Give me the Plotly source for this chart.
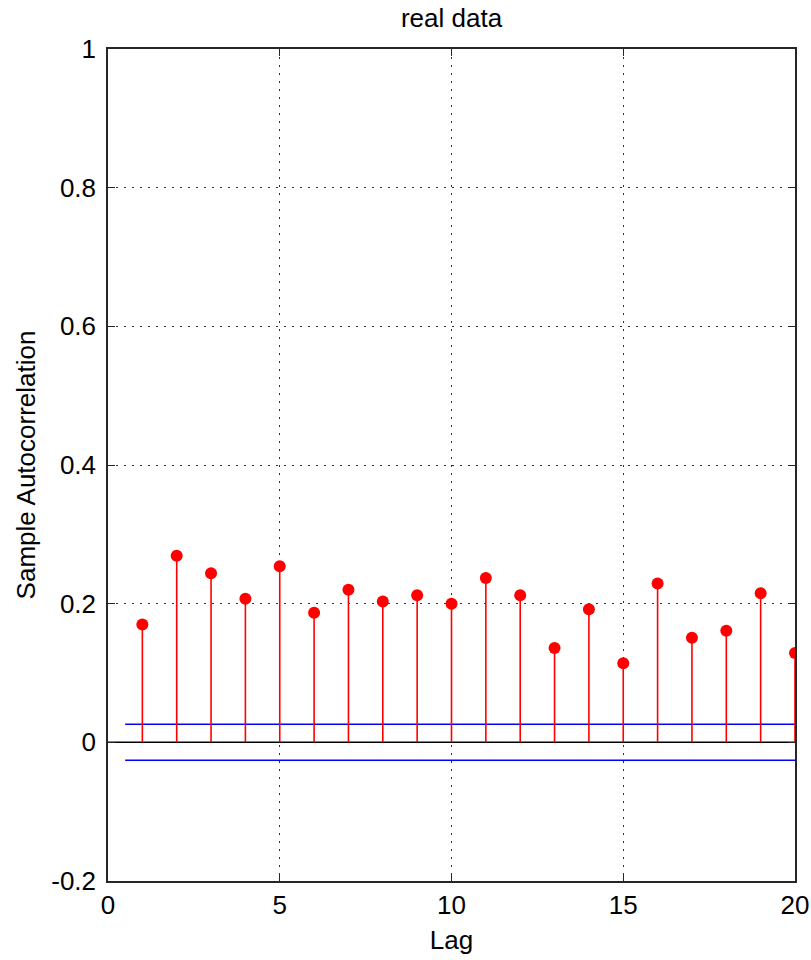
import plotly.graph_objects as go

lags = list(range(1, 21))
acf = [0.170, 0.269, 0.244, 0.207, 0.254, 0.187, 0.220, 0.203, 0.212, 0.200,
       0.237, 0.212, 0.136, 0.192, 0.114, 0.229, 0.151, 0.161, 0.215, 0.129]
bound = 0.026
bound_x = [0.5, 20]

sx, sy = [], []
for l, v in zip(lags, acf):
    sx += [l, l, None]
    sy += [0, v, None]

fig = go.Figure()
fig.add_trace(go.Scatter(x=[0, 20], y=[0, 0], mode="lines",
                         line=dict(color="black", width=1.5), hoverinfo="skip"))
fig.add_trace(go.Scatter(x=bound_x, y=[bound, bound], mode="lines",
                         line=dict(color="#0000ff", width=1.5)))
fig.add_trace(go.Scatter(x=bound_x, y=[-bound, -bound], mode="lines",
                         line=dict(color="#0000ff", width=1.5)))
fig.add_trace(go.Scatter(x=sx, y=sy, mode="lines",
                         line=dict(color="#ff0000", width=1.6)))
fig.add_trace(go.Scatter(x=lags, y=acf, mode="markers",
                         marker=dict(color="#ff0000", size=12, symbol="circle")))

font = "Liberation Sans, Arial, sans-serif"
fig.update_layout(
    width=811, height=960,
    margin=dict(l=108, r=16, t=49, b=79),
    paper_bgcolor="white", plot_bgcolor="white",
    showlegend=False,
    font=dict(family=font, color="black", size=26),
    title=dict(text="real data", xref="paper", x=0.5, xanchor="center",
               y=0.981, yanchor="middle",
               font=dict(family=font, size=26, color="black")),
)
fig.update_xaxes(
    range=[0, 20], tickvals=[0, 5, 10, 15, 20], ticktext=["0", "5", "10", "15", "20"],
    showgrid=True, gridcolor="#333333", griddash="2px,6px", gridwidth=1.2,
    showline=True, linecolor="#262626", linewidth=1.5, mirror="ticks",
    ticks="inside", ticklen=7, tickcolor="#262626", zeroline=False,
    automargin=False,
    title=dict(text="Lag", font=dict(family=font, size=26), standoff=12),
    tickfont=dict(family=font, size=26),
)
fig.update_yaxes(
    range=[-0.2, 1], tickvals=[-0.2, 0, 0.2, 0.4, 0.6, 0.8, 1],
    ticktext=["-0.2", "0", "0.2", "0.4", "0.6", "0.8", "1"],
    showgrid=True, gridcolor="#333333", griddash="2px,6px", gridwidth=1.2,
    showline=True, linecolor="#262626", linewidth=1.5, mirror="ticks",
    ticks="inside", ticklen=7, tickcolor="#262626", zeroline=False,
    automargin=False, ticklabelstandoff=5,
    title=dict(text="Sample Autocorrelation", font=dict(family=font, size=26), standoff=8),
    tickfont=dict(family=font, size=26),
)

fig.write_html("out.html")
